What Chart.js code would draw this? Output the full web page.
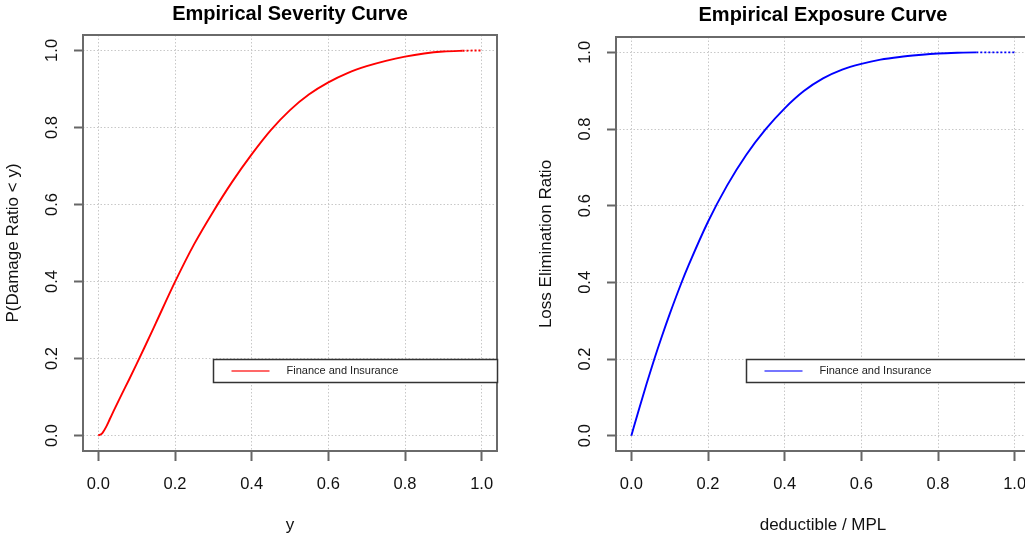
<!DOCTYPE html>
<html>
<head>
<meta charset="utf-8">
<script src="https://cdn.jsdelivr.net/npm/chart.js@4.4.0/dist/chart.umd.min.js"></script>
<style>
  html, body { margin: 0; padding: 0; background: #fff; }
  #wrap { position: relative; width: 1025px; height: 537px; overflow: hidden; }
  canvas { position: absolute; top: 0; }
  #sev { left: 0; }
  #exp { left: 533px; }
</style>
</head>
<body>
<div id="wrap">
  <canvas id="sev" width="533" height="537"></canvas>
  <canvas id="exp" width="533" height="537"></canvas>
</div>
<script>
const seriesLabel = 'Finance and Insurance'

// severity curve: P(Damage Ratio < y)
const sevX = [0, 0.01, 0.02, 0.03, 0.04, 0.06, 0.08, 0.1, 0.12, 0.15, 0.2, 0.25, 0.3, 0.35, 0.4, 0.45, 0.5, 0.55, 0.6, 0.65, 0.7, 0.75, 0.8, 0.85, 0.9, 0.95, 1.0]
const sevY = [0, 0.006, 0.022, 0.043, 0.064, 0.105, 0.145, 0.186, 0.228, 0.292, 0.399, 0.497, 0.582, 0.66, 0.73, 0.793, 0.845, 0.886, 0.917, 0.941, 0.959, 0.973, 0.984, 0.992, 0.997, 0.999, 1.0]

// exposure curve: loss elimination ratio
const expX = [0, 0.02, 0.04, 0.06, 0.08, 0.1, 0.13, 0.15, 0.2, 0.25, 0.3, 0.35, 0.4, 0.45, 0.5, 0.55, 0.6, 0.65, 0.7, 0.75, 0.8, 0.85, 0.9, 0.95, 1.0]
const expY = [0, 0.069, 0.136, 0.2, 0.26, 0.317, 0.397, 0.446, 0.558, 0.653, 0.733, 0.799, 0.854, 0.899, 0.932, 0.955, 0.97, 0.981, 0.988, 0.993, 0.997, 0.999, 1.0, 1.0, 1.0]

const tickVals = [0, 0.2, 0.4, 0.6, 0.8, 1]
const tickLabels = ['0.0', '0.2', '0.4', '0.6', '0.8', '1.0']

const FONT = "'Liberation Sans', Arial, sans-serif"
Chart.defaults.font.family = FONT

// frame round the plot region, like R's box()
const boxPlugin = {
  id: 'rbox',
  afterDatasetsDraw (chart) {
    const { ctx, chartArea: a } = chart
    ctx.save()
    ctx.strokeStyle = '#6a6a6a'
    ctx.lineWidth = 2
    ctx.strokeRect(a.left, a.top, a.right - a.left, a.bottom - a.top)
    ctx.restore()
  }
}

// legend placed at a data position, like legend(x, y, ...) in R
const legendPlugin = {
  id: 'rlegend',
  afterDraw (chart, args, opts) {
    const { ctx, scales } = chart
    const ds = chart.data.datasets[0]
    const x0 = Math.round(scales.x.getPixelForValue(opts.at[0])) + 0.5
    const y0 = Math.round(scales.y.getPixelForValue(opts.at[1])) + 0.5
    ctx.save()
    ctx.fillStyle = '#fff'
    ctx.fillRect(x0, y0, opts.width, opts.height)
    ctx.strokeStyle = '#333'
    ctx.lineWidth = 1.5
    ctx.strokeRect(x0, y0, opts.width, opts.height)
    const cy = y0 + opts.height / 2
    ctx.strokeStyle = opts.lineColor
    ctx.lineWidth = 2
    ctx.beginPath()
    ctx.moveTo(x0 + 18, cy)
    ctx.lineTo(x0 + 56, cy)
    ctx.stroke()
    ctx.fillStyle = '#222'
    ctx.font = '11px ' + FONT
    ctx.textBaseline = 'middle'
    ctx.fillText(ds.label, x0 + 73, cy)
    ctx.restore()
  }
}

function axis (extra) {
  return Object.assign({
    type: 'linear',
    min: -0.04,
    max: 1.04,
    afterBuildTicks: s => { s.ticks = tickVals.map(v => ({ value: v })) },
    border: { display: false, dash: [1.5, 2] }
  }, extra)
}

function makeChart (id, xs, ys, color, legendColor, dashFrom, titleText, xTitle, yTitle, titlePad) {
  return new Chart(document.getElementById(id), {
    type: 'line',
    data: {
      datasets: [{
        label: seriesLabel,
        data: xs.map((x, i) => ({ x: x, y: ys[i] })),
        borderColor: color,
        borderWidth: 1.9,
        pointRadius: 0,
        cubicInterpolationMode: 'monotone',
        segment: { borderDash: c => c.p0.parsed.x >= dashFrom ? [2, 2] : undefined }
      }]
    },
    options: {
      responsive: false,
      animation: false,
      layout: { padding: { left: 0, right: 36, top: 0, bottom: 0 } },
      plugins: {
        legend: { display: false },
        tooltip: { enabled: false },
        title: {
          display: true,
          text: titleText,
          fullSize: false,
          color: '#000',
          font: { size: 20, weight: 'bold' },
          padding: titlePad
        },
        rlegend: { at: [0.3, 0.2], width: 284, height: 23, lineColor: legendColor }
      },
      scales: {
        x: axis({
          position: 'bottom',
          afterFit: s => { s.height = 86 },
          ticks: {
            autoSkip: false, maxRotation: 0, padding: 13.5, color: '#111',
            font: { size: 16.5 },
            callback: v => tickLabels[tickVals.indexOf(v)]
          },
          grid: { color: '#c8c8c8', lineWidth: 1, tickLength: 10, tickColor: '#666', tickWidth: 2, tickBorderDash: [] },
          title: { display: true, text: xTitle, color: '#111', font: { size: 17 }, padding: { top: 0, bottom: 1.2 } }
        }),
        y: axis({
          position: 'left',
          afterFit: s => { s.width = 83 },
          ticks: {
            autoSkip: false, minRotation: 90, maxRotation: 90, crossAlign: 'center', padding: 10, color: '#111',
            font: { size: 16.5 },
            callback: v => tickLabels[tickVals.indexOf(v)]
          },
          grid: { color: '#c8c8c8', lineWidth: 1, tickLength: 9, tickColor: '#666', tickWidth: 2, tickBorderDash: [] },
          title: { display: true, text: yTitle, color: '#111', font: { size: 17 }, padding: { top: 2.8, bottom: 0 } }
        })
      }
    },
    plugins: [boxPlugin, legendPlugin]
  })
}

makeChart('sev', sevX, sevY, '#ff0000', 'rgba(255,40,40,0.7)', 0.93,
  'Empirical Severity Curve', 'y', 'P(Damage Ratio < y)', { top: 2, bottom: 9 })
makeChart('exp', expX, expY, '#0000ff', 'rgba(60,60,255,0.7)', 0.875,
  'Empirical Exposure Curve', 'deductible / MPL', 'Loss Elimination Ratio', { top: 3.8, bottom: 9.2 })
</script>
</body>
</html>
